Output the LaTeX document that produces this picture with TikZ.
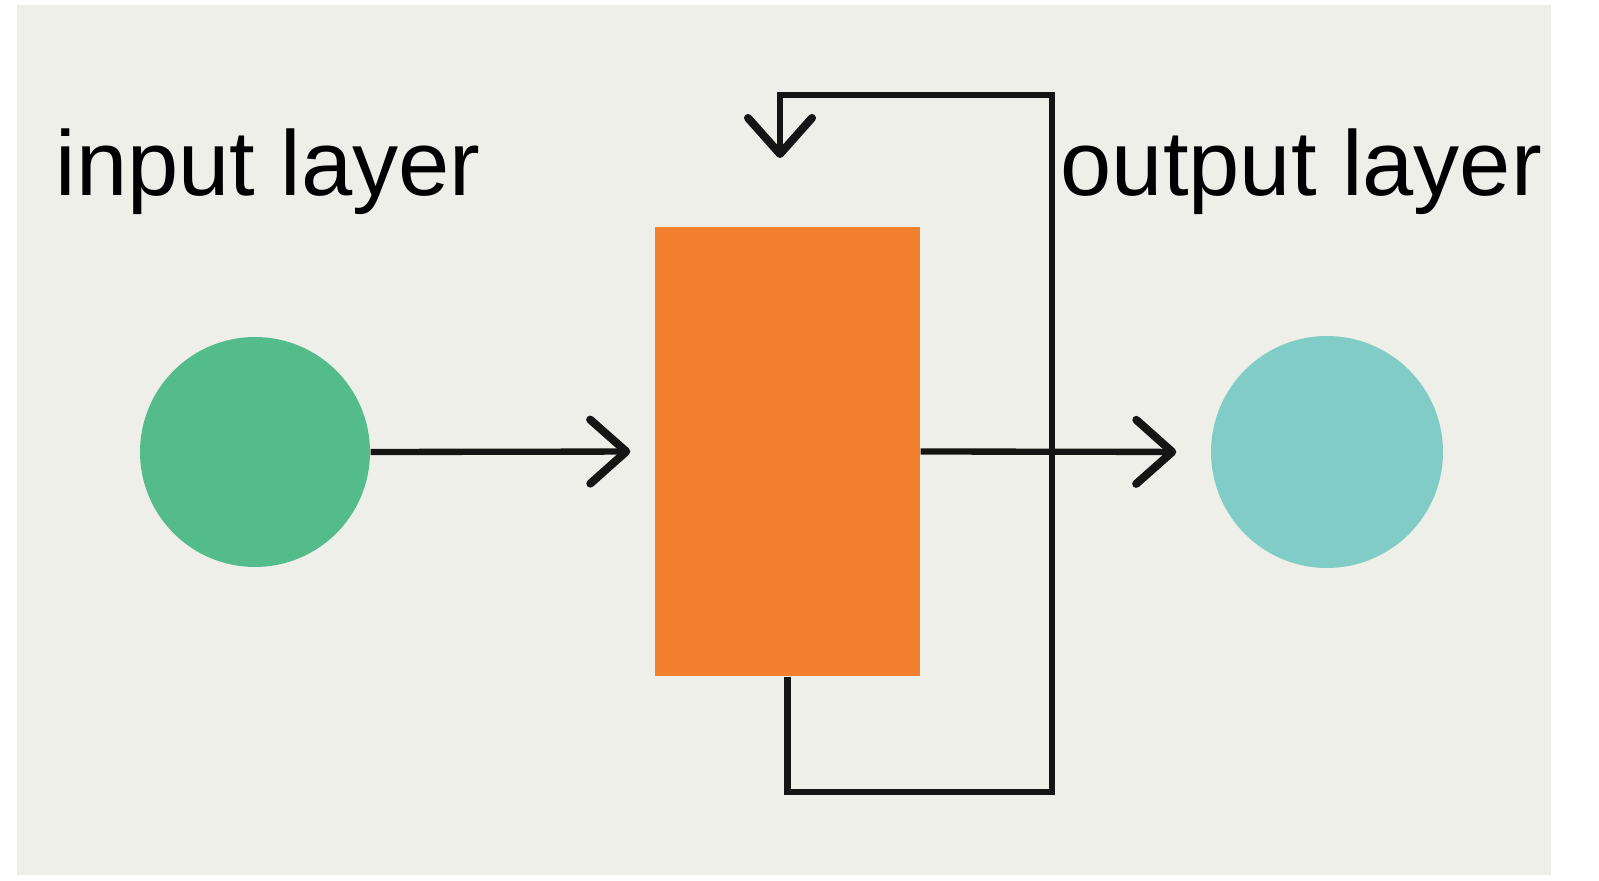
\documentclass[tikz,border=0pt]{standalone}
\usepackage{fontspec}
\setmainfont{Liberation Sans}
\usetikzlibrary{arrows.meta,positioning}
\definecolor{bggray}{HTML}{EFEFEA}
\definecolor{ingreen}{HTML}{54BB8A}
\definecolor{outteal}{HTML}{82CCC8}
\definecolor{hidorange}{HTML}{F2802F}
\definecolor{linedark}{HTML}{151515}
\tikzset{
mycirc/.style={
  circle,
  minimum size=2.3cm,
  inner sep=0pt
  },
mybox/.style={
  rectangle,
  fill=hidorange,
  minimum width=2.65cm,
  minimum height=4.49cm,
  inner sep=0pt
  },
mylabel/.style={
  font=\fontsize{26.2}{30}\selectfont,
  inner sep=0pt,
  anchor=base west
  }
}

\begin{document}
\begin{tikzpicture}[>={Straight Barb[length=3.6mm,width=6.4mm,round,line width=2.3pt]}]
\useasboundingbox (0,0) rectangle (15.99,8.80);
\fill[bggray] (0.17,0.05) rectangle (15.51,8.75);

\node[mycirc, fill=ingreen]
at (2.55,4.28)
(inc) {};

\node[mybox]
at (7.875,4.285)
(box) {};

\node[mycirc, fill=outteal, minimum size=2.32cm]
at (13.27,4.28)
(outc) {};

\node[mylabel] at (0.55,6.84) (inlab) {input layer};
\node[mylabel] at (10.60,6.84) (outlab) {output layer};

\coordinate (loopbr) at (10.52,0.88);
\coordinate (looptr) at (10.52,7.85);
\coordinate (loopend) at (7.80,7.22);

\begin{scope}[draw=linedark, line width=1.8pt]
\draw[->, shorten >=0.24cm]
  (inc.east) -- (box.west);
\draw[->, shorten >=0.34cm]
  (box.east) -- (outc.west);
\draw[->]
  (box.south) |- (loopbr) -- (looptr) -| (loopend);
\end{scope}
\end{tikzpicture}
\end{document}
